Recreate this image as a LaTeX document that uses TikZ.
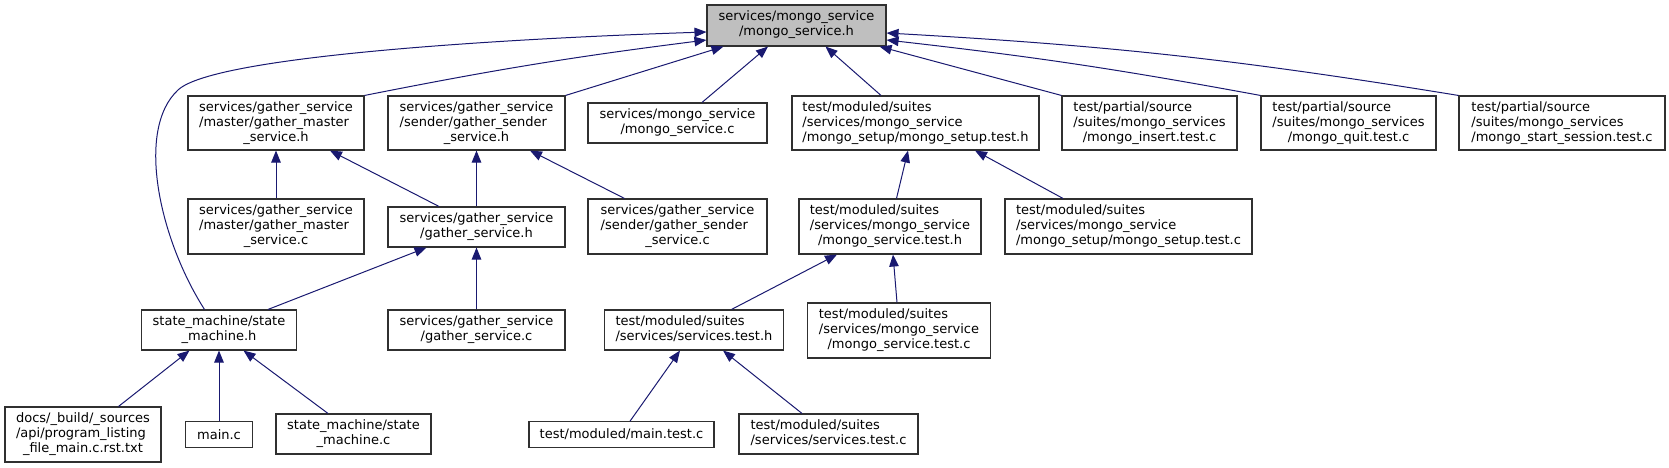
\documentclass[tikz,border=0pt]{standalone}
\usepackage{fontspec}
\setmainfont{DejaVu Sans}
\usepackage{tikz}
\usetikzlibrary{arrows.meta}
\definecolor{EdgeBlue}{RGB}{25, 25, 112}
\definecolor{BoxLine}{RGB}{48, 48, 48}
\definecolor{RootGray}{RGB}{191, 191, 191}
% label lines: all left, last one centred
\newcommand{\labtwo}[2]{\begin{tabular}{@{}l@{}}#1\\\multicolumn{1}{@{}c@{}}{#2}\end{tabular}}
\newcommand{\labthree}[3]{\begin{tabular}{@{}l@{}}#1\\#2\\\multicolumn{1}{@{}c@{}}{#3}\end{tabular}}

\begin{document}
\begin{tikzpicture}[x=1pt, y=-1pt,
    font=\fontsize{13}{15}\selectfont,
    box/.style={draw=BoxLine, line width=1.1pt, inner sep=2pt, minimum height=40pt},
    dep/.style={draw=EdgeBlue, line width=1pt, -{Triangle[length=12pt, width=9.5pt]}}]
    \useasboundingbox (0,0) rectangle (1669,468);

    % Raiz
    \node[box, fill=RootGray, minimum width=179pt, minimum height=41pt] (msh) at (796.5,25.5) {\labtwo{services/mongo\_service}{/mongo\_service.h}};

    % Fila 1
    \node[box, minimum width=176pt, minimum height=54pt] (gmh) at (276,123) {\labthree{services/gather\_service}{/master/gather\_master}{\_service.h}};
    \node[box, minimum width=177pt, minimum height=54pt] (gsh) at (476.5,123) {\labthree{services/gather\_service}{/sender/gather\_sender}{\_service.h}};
    \node[box, minimum width=179pt] (msc) at (677.5,123) {\labtwo{services/mongo\_service}{/mongo\_service.c}};
    \node[box, minimum width=247pt, minimum height=54pt] (msth) at (915.5,123) {\labthree{test/moduled/suites}{/services/mongo\_service}{/mongo\_setup/mongo\_setup.test.h}};
    \node[box, minimum width=175pt, minimum height=54pt] (ins) at (1149.5,123) {\labthree{test/partial/source}{/suites/mongo\_services}{/mongo\_insert.test.c}};
    \node[box, minimum width=175pt, minimum height=54pt] (quit) at (1348.5,123) {\labthree{test/partial/source}{/suites/mongo\_services}{/mongo\_quit.test.c}};
    \node[box, minimum width=206pt, minimum height=54pt] (sess) at (1562,123) {\labthree{test/partial/source}{/suites/mongo\_services}{/mongo\_start\_session.test.c}};

    % Fila 2
    \node[box, minimum width=176pt, minimum height=55pt] (gmc) at (276,226.5) {\labthree{services/gather\_service}{/master/gather\_master}{\_service.c}};
    \node[box, minimum width=177pt] (gsvh) at (476.5,227) {\labtwo{services/gather\_service}{/gather\_service.h}};
    \node[box, minimum width=179pt, minimum height=55pt] (gsc) at (677.5,226.5) {\labthree{services/gather\_service}{/sender/gather\_sender}{\_service.c}};
    \node[box, minimum width=182pt, minimum height=55pt] (mstesth) at (890,226.5) {\labthree{test/moduled/suites}{/services/mongo\_service}{/mongo\_service.test.h}};
    \node[box, minimum width=247pt, minimum height=55pt] (mstc) at (1128.5,226.5) {\labthree{test/moduled/suites}{/services/mongo\_service}{/mongo\_setup/mongo\_setup.test.c}};

    % Fila 3
    \node[box, minimum width=155pt] (smh) at (219,330) {\labtwo{state\_machine/state}{\_machine.h}};
    \node[box, minimum width=177pt] (gsvc) at (476.5,330) {\labtwo{services/gather\_service}{/gather\_service.c}};
    \node[box, minimum width=179pt] (sth) at (694,330) {\labtwo{test/moduled/suites}{/services/services.test.h}};
    \node[box, minimum width=182.5pt, minimum height=55pt] (mstestc) at (899,330.5) {\labthree{test/moduled/suites}{/services/mongo\_service}{/mongo\_service.test.c}};

    % Fila 4
    \node[box, minimum width=156pt, minimum height=55pt] (docs) at (83,434.5) {\labthree{docs/\_build/\_sources}{/api/program\_listing}{\_file\_main.c.rst.txt}};
    \node[box, minimum width=67pt, minimum height=25.5pt] (mainc) at (219,434.5) {main.c};
    \node[box, minimum width=155pt] (smc) at (353.5,434) {\labtwo{state\_machine/state}{\_machine.c}};
    \node[box, minimum width=185pt, minimum height=25.5pt] (mtc) at (621.5,434.5) {test/moduled/main.test.c};
    \node[box, minimum width=179pt] (stc) at (828.5,434) {\labtwo{test/moduled/suites}{/services/services.test.c}};

    % Hacia la raiz
    \draw[dep] ([xshift=-14.5pt]smh.north) .. controls (160,240) and (135,130) .. (178,90)
        .. controls (215,55) and (520,38) .. ([yshift=-6.5pt]msh.west);
    \draw[dep] (gmh.north east) to[bend left=2] ([yshift=-14.5pt]msh.west);
    \draw[dep] (gsh.north east) -- ([xshift=17pt]msh.south west);
    \draw[dep] ([xshift=24.5pt]msc.north) -- ([xshift=-28.5pt]msh.south);
    \draw[dep] ([xshift=-34.5pt]msth.north) -- ([xshift=29pt]msh.south);
    \draw[dep] (ins.north west) -- ([xshift=-7pt]msh.south east);
    \draw[dep] (quit.north west) to[bend right=2] ([yshift=-14.5pt]msh.east);
    \draw[dep] (sess.north west) to[bend right=3] ([yshift=-7.5pt]msh.east);

    % Gather
    \draw[dep] (gmc.north) -- (gmh.south);
    \draw[dep] ([xshift=-37.5pt]gsvh.north) -- ([xshift=54pt]gmh.south);
    \draw[dep] (gsvh.north) -- (gsh.south);
    \draw[dep] ([xshift=-53pt]gsc.north) -- ([xshift=53.5pt]gsh.south);
    \draw[dep] ([xshift=49pt]smh.north) -- ([xshift=-50pt]gsvh.south);
    \draw[dep] (gsvc.north) -- (gsvh.south);

    % State machine
    \draw[dep] ([xshift=35.5pt]docs.north) -- ([xshift=-29.5pt]smh.south);
    \draw[dep] (mainc.north) -- (smh.south);
    \draw[dep] ([xshift=-25.5pt]smc.north) -- ([xshift=24.5pt]smh.south);

    % Tests
    \draw[dep] ([xshift=6.5pt]mstesth.north) -- ([xshift=-7.5pt]msth.south);
    \draw[dep] ([xshift=-65.5pt]mstc.north) -- ([xshift=59.5pt]msth.south);
    \draw[dep] ([xshift=37.5pt]sth.north) -- ([xshift=-53pt]mstesth.south);
    \draw[dep] ([xshift=-2pt]mstestc.north) -- ([xshift=3pt]mstesth.south);
    \draw[dep] ([xshift=8.5pt]mtc.north) -- ([xshift=-14pt]sth.south);
    \draw[dep] ([xshift=-26.5pt]stc.north) -- ([xshift=29pt]sth.south);
\end{tikzpicture}
\end{document}
